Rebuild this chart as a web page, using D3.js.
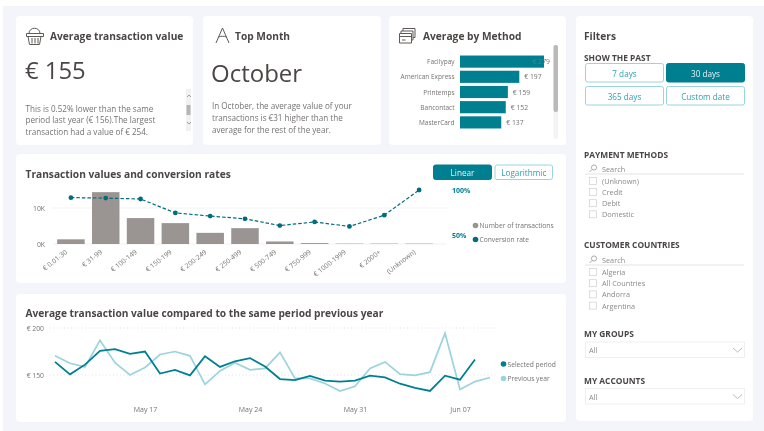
<!DOCTYPE html>
<html><head><meta charset="utf-8">
<script src="https://cdn.jsdelivr.net/npm/d3@7"></script>
<style>
html,body{margin:0;padding:0;background:#fff;overflow:hidden}
svg{display:block;filter:blur(0.45px)}
text{font-family:"Open Sans","Noto Sans",sans-serif}
</style></head><body><div id="c"></div>
<script>
const binLabels=["€ 0.01-30","€ 31-99","€ 100-149","€ 150-199","€ 200-249","€ 250-499","€ 500-749","€ 750-999","€ 1000-1999","€ 2000+","(Unknown)"];
const binCounts=[1300,14400,7200,5800,3100,4400,700,250,100,100,100];
const binRates=[91.5,91,90,74.5,71,68,60.5,64.5,59.5,72,100];
const methods=["Facilypay","American Express","Printemps","Bancontact","MasterCard"];
const methodValues=[279,197,159,152,137];
const selectedPeriod=[164,150.7,161,175.7,177.5,172.5,175,151.5,155.5,149.6,170,158.6,164.6,168,159,145.7,144.6,149,144,143,144,149.3,147.5,140.7,136.4,133,149.3,145,166.4];
const previousYear=[170.4,162.5,158.6,186.8,163,150,158,171.8,175,170.4,140,154.3,163,155.5,157,174,146.4,146.4,141,132.9,138,157,163.9,151,149.6,153,194.3,134.6,143,147.3];
const paymentItems=["(Unknown)","Credit","Debit","Domestic"];
const countryItems=["Algeria","All Countries","Andorra","Argentina"];
const dayButtons=["7 days","30 days","365 days","Custom date"];
const scaleButtons=["Linear","Logarithmic"];
const kpiLines=["This is 0.52% lower than the same","period last year (€ 156).The largest","transaction had a value of € 254."];
const monthLines=["In October, the average value of your","transactions is €31 higher than the","average for the rest of the year."];

const TEAL="#007f91",DARK="#006c7c",LIGHT="#9bd4dd",GREY="#9a9593",INK="#4a4645",SOFT="#757271";
const svg=d3.select("#c").append("svg").attr("width",764).attr("height",431);
svg.append("rect").attr("x",3).attr("y",6).attr("width",761).attr("height",425).attr("fill","#f3f5fa");
const card=(x,y,w,h)=>svg.append("rect").attr("x",x).attr("y",y).attr("width",w).attr("height",h).attr("rx",4).attr("fill","#fff");
[[16,16,177,129],[203,16,178,129],[389,16,177,129],[576,16,177,405],[16,154,550,129],[16,294,550,128]].forEach(c=>card(...c));
const txt=(x,y,s,size,fill,weight,anchor)=>svg.append("text").attr("x",x).attr("y",y).attr("dominant-baseline","central").attr("font-size",size).attr("fill",fill).attr("font-weight",weight||400).attr("text-anchor",anchor||"start").text(s);

/* KPI cards */
txt(50,36,"Average transaction value",10.2,INK,700);
txt(25,70,"€ 155",23.8,INK,400);
kpiLines.forEach((s,i)=>txt(25.5,108+i*11.8,s,8.1,SOFT));
txt(235,36,"Top Month",10.2,INK,700);
txt(211,72,"October",24,INK,400);
monthLines.forEach((s,i)=>txt(212,105+i*12,s,8.1,SOFT));
// scrollbar of KPI text
svg.append("rect").attr("x",186).attr("y",89).attr("width",5).attr("height",42).attr("fill","#f1f1f1");
svg.append("rect").attr("x",186.5).attr("y",105).attr("width",4).attr("height",10).attr("fill","#b5b5b5");
svg.append("path").attr("d","M187 97l2-2 2 2M187 122l2 2 2-2").attr("fill","none").attr("stroke","#777").attr("stroke-width",.7);
// icons
const ic=(d,w)=>svg.append("path").attr("d",d).attr("fill","none").attr("stroke","#5e5a59").attr("stroke-width",w||1);
ic("M26.500 33.500h17v3h-17zM28 36.500l1.500 8h10l1.500-8M29 33.500c0-7 11-7 11 0M32 38v5.500M35 38v5.500M38 38v5.500");
ic("M216 43l6.500-15 6.500 15M218.500 37c2-1 6-1 8 0");
ic("M403 31v-2.500h12v9h-2M401 33.500v-2.500h12v9h-2M399.500 33.500h12v9.500h-12zM399.500 36.500h12M402 40h3.500");

/* Average by method */
txt(423,36,"Average by Method",10.2,INK,700);
const mx=d3.scaleLinear().domain([0,279]).range([460,544]);
const my=d3.scaleBand().domain(methods).range([54,130]).paddingInner(.2).paddingOuter(.1);
svg.selectAll(".mb").data(methods).join("rect").attr("x",mx(0)).attr("y",d=>my(d)).attr("width",(d,i)=>mx(methodValues[i])-mx(0)).attr("height",my.bandwidth()).attr("fill",TEAL);
methods.forEach((m,i)=>{
  txt(454.5,my(m)+my.bandwidth()/2,m,6.5,SOFT,400,"end");
  const v=methodValues[i],over=mx(v)+24>552;
  txt(over?550:mx(v)+5,my(m)+my.bandwidth()/2,"€ "+v,6.8,SOFT,400,over?"end":"start");
});
svg.append("rect").attr("x",553.5).attr("y",45).attr("width",4.5).attr("height",94).attr("rx",2).attr("fill","#f4f4f4");
svg.append("rect").attr("x",553.5).attr("y",45).attr("width",4.5).attr("height",67).attr("rx",2).attr("fill","#b9b9b9");

/* Transaction values */
txt(25.5,173.5,"Transaction values and conversion rates",10.2,INK,700);
const bx=d3.scaleBand().domain(binLabels).range([53.5,436.5]).paddingInner(.21).paddingOuter(.105);
const by=d3.scaleLinear().domain([0,10000]).range([244,208]);
const ry=d3.scaleLinear().domain([50,100]).range([235,190]);
const lefta=svg.append("g").attr("transform","translate(53,0)").call(d3.axisLeft(by).tickValues([0,10000]).tickFormat(d=>d/1000+"K").tickSize(0).tickPadding(8));
lefta.select(".domain").remove();
lefta.selectAll("text").attr("font-size",6.8).attr("fill",SOFT);
svg.selectAll(".gl").data([0,10000]).join("line").attr("x1",53).attr("x2",447).attr("y1",d=>by(d)).attr("y2",d=>by(d)).attr("stroke","#eeeeee").attr("stroke-width",.8);
svg.selectAll(".bar").data(binLabels).join("rect").attr("x",d=>bx(d)).attr("width",bx.bandwidth()).attr("y",(d,i)=>by(binCounts[i])).attr("height",(d,i)=>by(0)-by(binCounts[i])).attr("fill",GREY);
const ba=svg.append("g").attr("transform","translate(0,244)").call(d3.axisBottom(bx).tickSize(0).tickPadding(0));
ba.select(".domain").remove();
ba.selectAll("text").attr("font-size",6.8).attr("fill",SOFT).attr("text-anchor","end").attr("dy",0).attr("transform","translate(-3,9) rotate(-38)");
const bc=d=>bx(d)+bx.bandwidth()/2;
const line1=d3.line().x(d=>bc(d)).y((d,i)=>ry(binRates[i]));
svg.append("path").attr("d",line1(binLabels)).attr("fill","none").attr("stroke",DARK).attr("stroke-width",1.2).attr("stroke-dasharray","3.5 2");
svg.selectAll(".pt").data(binLabels).join("circle").attr("cx",bc).attr("cy",(d,i)=>ry(binRates[i])).attr("r",2.4).attr("fill",DARK);
const ra=svg.append("g").attr("transform","translate(445,0)").call(d3.axisRight(ry).tickValues([50,100]).tickFormat(d=>d+"%").tickSize(0).tickPadding(7));
ra.select(".domain").remove();
ra.selectAll("text").attr("font-size",7).attr("font-weight",700).attr("fill",TEAL);
const lg1=[["Number of transactions",GREY,225.5],["Conversion rate",DARK,239.5]];
lg1.forEach(l=>{svg.append("circle").attr("cx",475.5).attr("cy",l[2]).attr("r",2.8).attr("fill",l[1]);txt(479.5,l[2],l[0],6.7,SOFT);});
// scale buttons
const btn=(x,y,w,h,s,on,size)=>{svg.append("rect").attr("x",x).attr("y",y).attr("width",w).attr("height",h).attr("rx",2).attr("fill",on?TEAL:"#fff").attr("stroke",on?TEAL:LIGHT).attr("stroke-width",1);
 txt(x+w/2,y+h/2+.5,s,size,on?"#e4f3f5":"#2e9fb0",400,"middle");};
btn(433.5,165,58,14.5,scaleButtons[0],true,8.2);
btn(495,165,57.5,14.5,scaleButtons[1],false,8.2);

/* Compared to previous year */
txt(25.5,312.5,"Average transaction value compared to the same period previous year",10.2,INK,700);
const startDay=new Date(2021,4,11);
const day=i=>d3.timeDay.offset(startDay,i);
const tx=d3.scaleTime().domain([day(0),day(28)]).range([55,475]);
const ty=d3.scaleLinear().domain([150,200]).range([375,328]);
const la=svg.append("g").attr("transform","translate(50,0)").call(d3.axisLeft(ty).tickValues([150,200]).tickFormat(d=>"€ "+d).tickSize(0).tickPadding(6));
la.select(".domain").remove();
la.selectAll("text").attr("font-size",6.8).attr("fill",SOFT);
svg.selectAll(".tg").data([150,200]).join("line").attr("x1",50).attr("x2",497).attr("y1",d=>ty(d)).attr("y2",d=>ty(d)).attr("stroke","#dcdcdc").attr("stroke-width",.8).attr("stroke-dasharray","1 2.5");
const xa=svg.append("g").attr("transform","translate(0,404)").call(d3.axisBottom(tx).tickValues([day(6),day(13),day(20),day(27)]).tickFormat(d3.timeFormat("%b %d")).tickSize(0).tickPadding(3));
xa.select(".domain").remove();
xa.selectAll("text").attr("font-size",7).attr("fill",SOFT);
const line2=d3.line().x((d,i)=>tx(day(i))).y(d=>ty(d));
svg.append("path").attr("d",line2(previousYear)).attr("fill","none").attr("stroke",LIGHT).attr("stroke-width",1.7);
svg.append("path").attr("d",line2(selectedPeriod)).attr("fill","none").attr("stroke",TEAL).attr("stroke-width",1.8);
[["Selected period",TEAL,364],["Previous year",LIGHT,378.5]].forEach(l=>{svg.append("circle").attr("cx",503.5).attr("cy",l[2]).attr("r",2.8).attr("fill",l[1]);txt(507.5,l[2],l[0],6.7,SOFT);});

/* Filters */
txt(584,36,"Filters",10.2,INK,700);
txt(584,57,"SHOW THE PAST",8.4,INK,700);
btn(585.5,63.5,78,18.5,dayButtons[0],false,8.2);
btn(666.5,63.5,78,18.5,dayButtons[1],true,8.2);
btn(585.5,86.5,78,18.5,dayButtons[2],false,8.2);
btn(666.5,86.5,78,18.5,dayButtons[3],false,8.2);
const slicer=(title,ty0,sy,items,iy,step)=>{
  txt(584,ty0,title,8.4,INK,700);
  svg.append("circle").attr("cx",594).attr("cy",sy-1).attr("r",2.6).attr("fill","none").attr("stroke","#888").attr("stroke-width",.7);
  svg.append("line").attr("x1",592).attr("y1",sy+1).attr("x2",589.5).attr("y2",sy+3.5).attr("stroke","#888").attr("stroke-width",.7);
  txt(602,sy,"Search",7.3,"#8a8a8a");
  svg.append("line").attr("x1",585).attr("x2",744).attr("y1",sy+5.5).attr("y2",sy+5.5).attr("stroke","#e3e3e3").attr("stroke-width",1);
  items.forEach((s,i)=>{const y=iy+i*step;
    svg.append("rect").attr("x",589.5).attr("y",y-3.5).attr("width",7).attr("height",7).attr("fill","#fff").attr("stroke","#cfcfcf").attr("stroke-width",.7);
    txt(602,y,s,7.3,"#8a8a8a");});
};
slicer("PAYMENT METHODS",154,168.5,paymentItems,181,11.1);
slicer("CUSTOMER COUNTRIES",244,259.5,countryItems,272,11.2);
const drop=(title,t,y)=>{txt(584,t,title,8.4,INK,700);
  svg.append("rect").attr("x",585.5).attr("y",y).attr("width",159).attr("height",15.5).attr("fill","#fff").attr("stroke","#efefef");
  txt(589,y+8,"All",7.3,"#8a8a8a");
  svg.append("path").attr("d",`M733 ${y+6}l4.5 4 4.5-4`).attr("fill","none").attr("stroke","#aaa").attr("stroke-width",.8);};
drop("MY GROUPS",333,342);
drop("MY ACCOUNTS",380,388.5);
</script></body></html>
